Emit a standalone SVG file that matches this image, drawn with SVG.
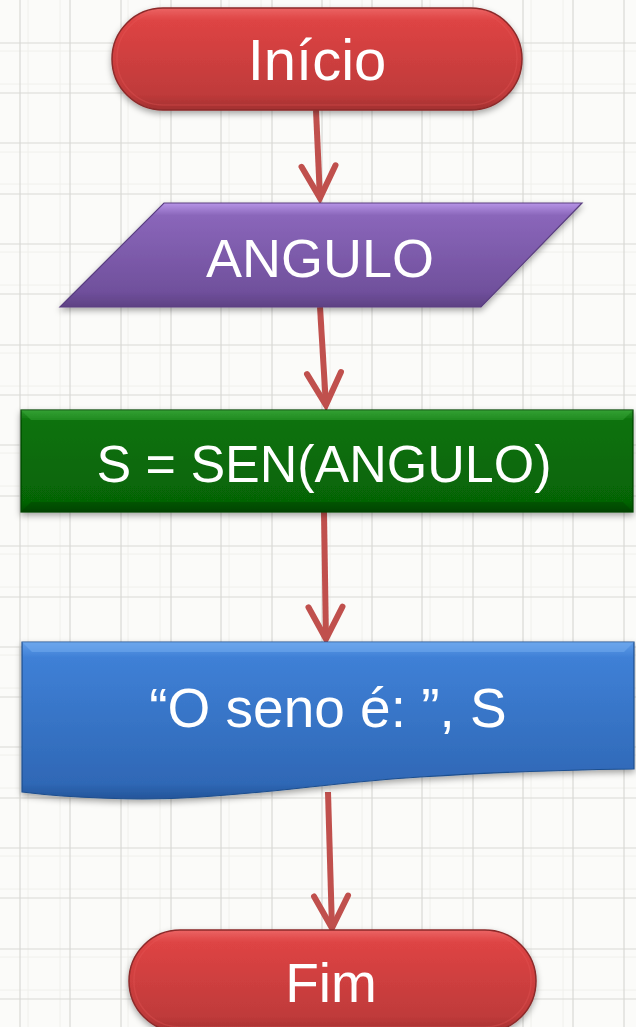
<svg xmlns="http://www.w3.org/2000/svg" width="636" height="1027" viewBox="0 0 636 1027">
  <defs>
    <style>
      .lbl { font-family: "Liberation Sans", Arial, sans-serif; fill: #ffffff; text-anchor: middle; }
      .grid { stroke: #d9d9d5; stroke-width: 1.2; fill: none; }
      .gridf { stroke: #f0f0ec; stroke-width: 1; fill: none; }
      .conn { stroke: #c0504d; stroke-width: 6; fill: none; stroke-linecap: butt; }
    </style>
    <linearGradient id="gRed" x1="0" y1="0" x2="0" y2="1">
      <stop offset="0" stop-color="#ec6464"/>
      <stop offset="0.12" stop-color="#de4444"/>
      <stop offset="0.85" stop-color="#bf3a3a"/>
      <stop offset="1" stop-color="#a23030"/>
    </linearGradient>
    <linearGradient id="gPur" x1="0" y1="0" x2="0" y2="1">
      <stop offset="0" stop-color="#b694e6"/>
      <stop offset="0.12" stop-color="#8a66ba"/>
      <stop offset="0.85" stop-color="#70509c"/>
      <stop offset="1" stop-color="#5e4184"/>
    </linearGradient>
    <linearGradient id="gGrn" x1="0" y1="0" x2="0" y2="1">
      <stop offset="0" stop-color="#2f9a2f"/>
      <stop offset="0.1" stop-color="#0b720b"/>
      <stop offset="0.9" stop-color="#066406"/>
      <stop offset="1" stop-color="#044a04"/>
    </linearGradient>
    <linearGradient id="gBlu" x1="0" y1="0" x2="0" y2="1">
      <stop offset="0" stop-color="#5f9ce8"/>
      <stop offset="0.1" stop-color="#3f80d6"/>
      <stop offset="0.9" stop-color="#2f68b6"/>
      <stop offset="1" stop-color="#24559a"/>
    </linearGradient>
    <filter id="sh" x="-10%" y="-20%" width="120%" height="150%">
      <feDropShadow dx="0" dy="3" stdDeviation="3" flood-color="#000" flood-opacity="0.35"/>
    </filter>
    <marker id="ah" markerUnits="userSpaceOnUse" markerWidth="60" markerHeight="60" viewBox="-40 -30 60 60" refX="0" refY="0" orient="auto" overflow="visible">
      <path d="M-33,-17 L-1,0 L-33,17" fill="none" stroke="#c0504d" stroke-width="6" stroke-linecap="round" stroke-linejoin="miter"/>
    </marker>
  </defs>

  <rect x="0" y="0" width="636" height="1027" fill="#fbfbf9"/>

  <g id="grid">
    <path class="gridf" d="M28,0V1027 M60,0V1027 M128,0V1027 M160,0V1027 M229,0V1027 M261,0V1027 M330,0V1027 M362,0V1027 M430,0V1027 M463,0V1027 M531,0V1027 M563,0V1027
      M0,51H636 M0,84H636 M0,152H636 M0,184H636 M0,252H636 M0,285H636 M0,353H636 M0,386H636 M0,453H636 M0,486H636 M0,554H636 M0,587H636 M0,655H636 M0,688H636 M0,755H636 M0,788H636 M0,856H636 M0,889H636 M0,957H636 M0,990H636"/>
    <path class="grid" d="M20,0V1027 M70,0V1027 M121,0V1027 M171,0V1027 M221,0V1027 M272,0V1027 M322,0V1027 M372,0V1027 M422,0V1027 M473,0V1027 M523,0V1027 M573,0V1027 M624,0V1027
      M0,43H636 M0,93H636 M0,143H636 M0,194H636 M0,244H636 M0,294H636 M0,345H636 M0,395H636 M0,445H636 M0,496H636 M0,546H636 M0,597H636 M0,647H636 M0,697H636 M0,747H636 M0,798H636 M0,848H636 M0,898H636 M0,949H636 M0,999H636"/>
  </g>

  <g id="connectors">
    <path class="conn" d="M316,110 L320,199" marker-end="url(#ah)"/>
    <path class="conn" d="M320,307 L326,406" marker-end="url(#ah)"/>
    <path class="conn" d="M324,512 L326,640" marker-end="url(#ah)"/>
    <path class="conn" d="M328,792 L332,929" marker-end="url(#ah)"/>
  </g>

  <g id="inicio">
    <rect x="112" y="8" width="410" height="102" rx="51" fill="url(#gRed)" stroke="#8c2a2a" stroke-width="1.5" filter="url(#sh)"/>
    <rect x="117" y="12" width="400" height="93" rx="46" fill="none" stroke="#e85a5a" stroke-width="1.5" opacity="0.3"/>
    <text class="lbl" x="317" y="80" font-size="58">Início</text>
  </g>

  <g id="angulo">
    <polygon points="164,203 582,203 481,307 60,307" fill="url(#gPur)" stroke="#5a3e80" stroke-width="1.2" filter="url(#sh)"/>
    <text class="lbl" x="320" y="277" font-size="54">ANGULO</text>
  </g>

  <g id="calculo">
    <rect x="21" y="410" width="612" height="102" fill="url(#gGrn)" stroke="#044404" stroke-width="1.2" filter="url(#sh)"/>
    <path d="M21,410 L31,420 L623,420 L633,410 Z" fill="#3aa83a" opacity="0.45"/>
    <path d="M21,512 L31,502 L623,502 L633,512 Z" fill="#033803" opacity="0.35"/>
    <text class="lbl" x="324" y="482" font-size="52">S = SEN(ANGULO)</text>
  </g>

  <g id="saida">
    <path d="M22,642 H634 V769 C560,770 480,773 420,777 C340,782 280,792 200,797 C140,801 70,798 22,792 Z" fill="url(#gBlu)" stroke="#1f4f8e" stroke-width="1.2" filter="url(#sh)"/>
    <path d="M22,642 L32,652 L624,652 L634,642 Z" fill="#7ab2f2" opacity="0.45"/>
    <text class="lbl" x="328" y="727" font-size="55">“O seno é: ”, S</text>
  </g>

  <g id="fim">
    <rect x="129" y="930" width="407" height="102" rx="51" fill="url(#gRed)" stroke="#8c2a2a" stroke-width="1.5" filter="url(#sh)"/>
    <rect x="134" y="934" width="397" height="93" rx="46" fill="none" stroke="#e85a5a" stroke-width="1.5" opacity="0.3"/>
    <text class="lbl" x="331" y="1002" font-size="55">Fim</text>
  </g>
</svg>
